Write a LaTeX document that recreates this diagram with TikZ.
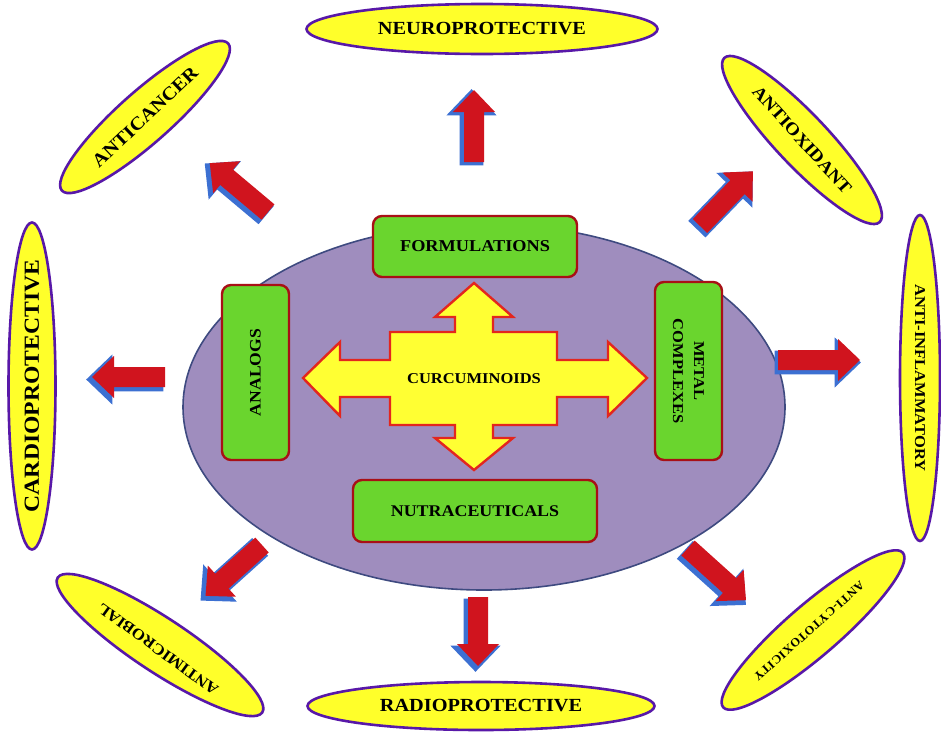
\documentclass[tikz,border=0pt]{standalone}
\usepackage{fontspec}
\setmainfont{Liberation Serif}[FakeStretch=1.1]
\newfontfamily\smallspaced{Liberation Serif}[FakeStretch=1.05,LetterSpace=4]
\usetikzlibrary{shapes.geometric}
\definecolor{lav}{HTML}{9F8DBE}
\definecolor{ellborder}{HTML}{3E4A80}
\definecolor{ovalyellow}{HTML}{FFFF2A}
\definecolor{ovalborder}{HTML}{5818A8}
\definecolor{boxgreen}{HTML}{6AD52E}
\definecolor{boxborder}{HTML}{A81016}
\definecolor{crossyellow}{HTML}{FFFF33}
\definecolor{crossred}{HTML}{E3261E}
\definecolor{arrred}{HTML}{D0141E}
\definecolor{arrblue}{HTML}{3C70D2}
\newcommand\blockarrow[4]{%
  \begin{scope}[shift={(#1-2.5,#2+2.5)},rotate=#3]
    \filldraw[fill=arrblue,draw=arrblue,line width=1.8pt,line join=miter]
      (0,-11) -- (#4-24,-11) -- (#4-24,-23) -- (#4,0) -- (#4-24,23) -- (#4-24,11) -- (0,11) -- cycle;
  \end{scope}
  \begin{scope}[shift={(#1,#2)},rotate=#3]
    \fill[arrred]
      (0,-10) -- (#4-24,-10) -- (#4-24,-21) -- (#4-2,0) -- (#4-24,21) -- (#4-24,10) -- (0,10) -- cycle;
  \end{scope}}
\begin{document}
\begin{tikzpicture}[x=1pt,y=-1pt,
  oval/.style={draw=ovalborder,fill=ovalyellow,ellipse,line width=2.6pt,inner sep=0pt},
  lbl/.style={font=\bfseries,inner sep=0pt,align=center},
  gbox/.style={draw=boxborder,fill=boxgreen,line width=2.4pt,rounded corners=9pt,inner sep=0pt}]
\useasboundingbox[fill=white] (0,0) rectangle (941,731);

% central ellipse
\node[draw=ellborder,fill=lav,ellipse,line width=1.6pt,minimum width=602pt,minimum height=366pt] (core) at (484,407) {};

% block arrows
\blockarrow{474}{162}{90}{74}
\blockarrow{700}{226}{46}{78}
\blockarrow{778}{360}{0}{84}
\blockarrow{688}{548}{-42}{80}
\blockarrow{478}{597}{-90}{71}
\blockarrow{262}{545}{-138}{78}
\blockarrow{165}{377}{180}{75}
\blockarrow{268}{212}{140}{78}

% outer ovals
\node[oval,minimum width=351pt,minimum height=50pt] (neuro) at (482,29) {};
\node[lbl,font=\fontsize{18.5}{20}\selectfont\bfseries] at (neuro) {NEUROPROTECTIVE};

\node[oval,minimum width=347pt,minimum height=48pt] (radio) at (481,706) {};
\node[lbl,font=\fontsize{18.5}{20}\selectfont\bfseries] at (radio) {RADIOPROTECTIVE};

\node[oval,rotate=90,minimum width=327pt,minimum height=47pt] (cardio) at (32,386) {};
\node[lbl,rotate=90,font=\fontsize{21.5}{23}\selectfont\bfseries] at (cardio) {CARDIOPROTECTIVE};

\node[oval,rotate=-90,minimum width=326pt,minimum height=40pt] (inflam) at (920,378) {};
\node[lbl,rotate=-90,font=\fontsize{15}{17}\selectfont\bfseries] at (inflam) {ANTI-INFLAMMATORY};

\node[oval,rotate=41.5,minimum width=222pt,minimum height=52pt] (cancer) at (145,117) {};
\node[lbl,rotate=43.5,font=\fontsize{18.5}{20}\selectfont\bfseries] at (cancer) {ANTICANCER};

\node[oval,rotate=-46.6,minimum width=226pt,minimum height=52pt] (oxid) at (802,140) {};
\node[lbl,rotate=-48,font=\fontsize{17.5}{19}\selectfont\bfseries] at (oxid) {ANTIOXIDANT};

\node[oval,rotate=-33.4,minimum width=245pt,minimum height=54pt] (micro) at (160,645) {};
\node[lbl,rotate=144,font=\fontsize{15.5}{17}\selectfont\bfseries] at (158,649) {ANTIMICROBIAL};

\node[oval,rotate=40.7,minimum width=237pt,minimum height=52pt] (cyto) at (813,630) {};
\node[lbl,rotate=221.7,font=\smallspaced\fontsize{12}{14}\selectfont\bfseries] at (809,631) {ANTI-CYTOTOXICITY};

% central cross
\draw[fill=crossyellow,draw=crossred,line width=2.4pt,line join=miter]
  (474,283) -- (513,317) -- (493,317) -- (493,332) -- (557,332) -- (557,360) -- (608,360) -- (608,342)
  -- (647,378) -- (608,416) -- (608,397) -- (557,397) -- (557,425) -- (493,425) -- (493,438) -- (513,438)
  -- (474,470) -- (435,438) -- (455,438) -- (455,425) -- (390,425) -- (390,397) -- (340,397) -- (340,416)
  -- (303,378) -- (340,342) -- (340,360) -- (390,360) -- (390,332) -- (455,332) -- (455,317) -- (435,317) -- cycle;
\node[lbl,font=\fontsize{15}{17}\selectfont\bfseries] (cur) at (474,379) {CURCUMINOIDS};

% green boxes
\node[gbox,minimum width=204pt,minimum height=61pt] (form) at (475,246.5) {};
\node[lbl,font=\fontsize{16.6}{18}\selectfont\bfseries] at (form) {FORMULATIONS};

\node[gbox,minimum width=244pt,minimum height=62pt] (nutra) at (475,511) {};
\node[lbl,font=\fontsize{16.3}{18}\selectfont\bfseries] at (nutra) {NUTRACEUTICALS};

\node[gbox,rotate=90,minimum width=175pt,minimum height=67pt] (analog) at (255.5,372.5) {};
\node[lbl,rotate=90,font=\fontsize{16}{18}\selectfont\bfseries] at (analog) {ANALOGS};

\node[gbox,rotate=-90,minimum width=178pt,minimum height=67pt] (metal) at (688.5,371) {};
\node[lbl,rotate=-90,font=\fontsize{15}{21}\selectfont\bfseries] at (metal) {METAL\\COMPLEXES};
\end{tikzpicture}
\end{document}
